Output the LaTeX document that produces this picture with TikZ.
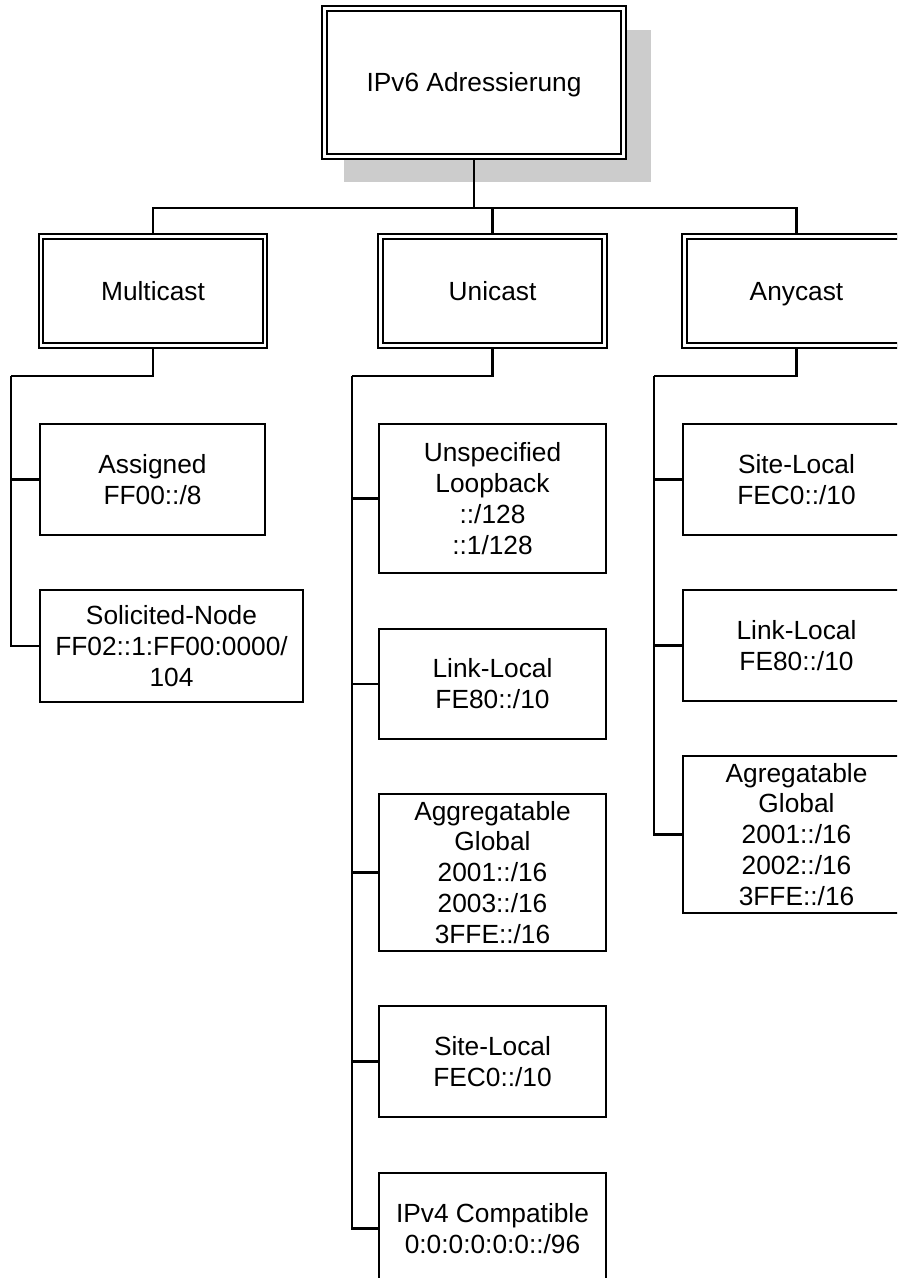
\documentclass[tikz,border=0pt]{standalone}
\usepackage{fontspec}
\setmainfont{Liberation Sans}
\usetikzlibrary{calc,shadows}
\definecolor{shade}{RGB}{204,204,204}
\definecolor{ink}{RGB}{0,0,0}
\tikzset{
  wire/.style={draw=ink,line width=0.052cm},
  label font/.style={font=\fontsize{18.7}{22}\selectfont,align=center},
  addrbox/.style={draw=ink,fill=white,line width=0.052cm,inner sep=0pt,outer sep=0pt,
    minimum width=5.675cm,minimum height=#1,label font},
  addrbox/.default=2.775cm,
  kindbox/.style={draw=ink,double=white,double distance=0.065cm,line width=0.05cm,
    fill=white,inner sep=0pt,outer sep=0.0575cm,minimum width=5.6cm,
    minimum height=2.735cm,label font,text height=13.4pt,text depth=0pt},
  topbox/.style={kindbox,minimum width=7.485cm,minimum height=3.71cm,
    drop shadow={shadow xshift=0.5625cm,shadow yshift=-0.575cm,shadow scale=1.025,
      fill=shade,opacity=1}},
}

\begin{document}
\begin{tikzpicture}[x=0.025cm,y=-0.025cm]
  \useasboundingbox (0,0) rectangle (897,1278);
  \clip (0,0) rectangle (897,1278);
  % root and address kinds
  \node[topbox] (root) at (474,82.5) {IPv6 Adressierung};
  \node[kindbox] (multi) at (153,291) {Multicast};
  \node[kindbox] (uni) at (492.5,291) {Unicast};
  \node[kindbox] (any) at (796.5,291) {Anycast};
  \coordinate (hub) at (474,208);
  \draw[wire] (root.south) -- (hub);
  \foreach \k in {multi,uni,any} \draw[wire] (\k.north) |- (hub);
  % multicast
  \node[addrbox,minimum width=5.625cm] (assigned) at (152.5,479.5) {Assigned\\FF00::/8};
  \node[addrbox=2.8cm,minimum width=6.575cm] (solicited) at (171.5,646) {Solicited-Node\\FF02::1:FF00:0000/\\104};
  % unicast
  \node[addrbox=3.725cm] (unspec) at (492.5,498.5) {Unspecified\\Loopback\\::/128\\::1/128};
  \node[addrbox=2.75cm] (ulink) at (492.5,684) {Link-Local\\FE80::/10};
  \node[addrbox=3.925cm] (uagg) at (492.5,872.5) {Aggregatable\\Global\\2001::/16\\2003::/16\\3FFE::/16};
  \node[addrbox] (usite) at (492.5,1061.5) {Site-Local\\FEC0::/10};
  \node[addrbox] (uipv4) at (492.5,1228.5) {IPv4 Compatible\\0:0:0:0:0:0::/96};
  % anycast
  \node[addrbox] (asite) at (796.5,479.5) {Site-Local\\FEC0::/10};
  \node[addrbox] (alink) at (796.5,645.5) {Link-Local\\FE80::/10};
  \node[addrbox=3.925cm] (aagg) at (796.5,834.5) {Agregatable\\Global\\2001::/16\\2002::/16\\3FFE::/16};
  \coordinate (mjoin) at (11,376);
  \coordinate (ujoin) at (352,376);
  \coordinate (ajoin) at (654,376);
  \draw[wire] (multi.south) |- (mjoin);
  \draw[wire] (uni.south) |- (ujoin);
  \draw[wire] (any.south) |- (ajoin);
  \foreach \b in {assigned,solicited} \draw[wire] (mjoin) |- (\b.west);
  \foreach \b in {unspec,ulink,uagg,usite,uipv4} \draw[wire] (ujoin) |- (\b.west);
  \foreach \b in {asite,alink,aagg} \draw[wire] (ajoin) |- (\b.west);
\end{tikzpicture}
\end{document}
